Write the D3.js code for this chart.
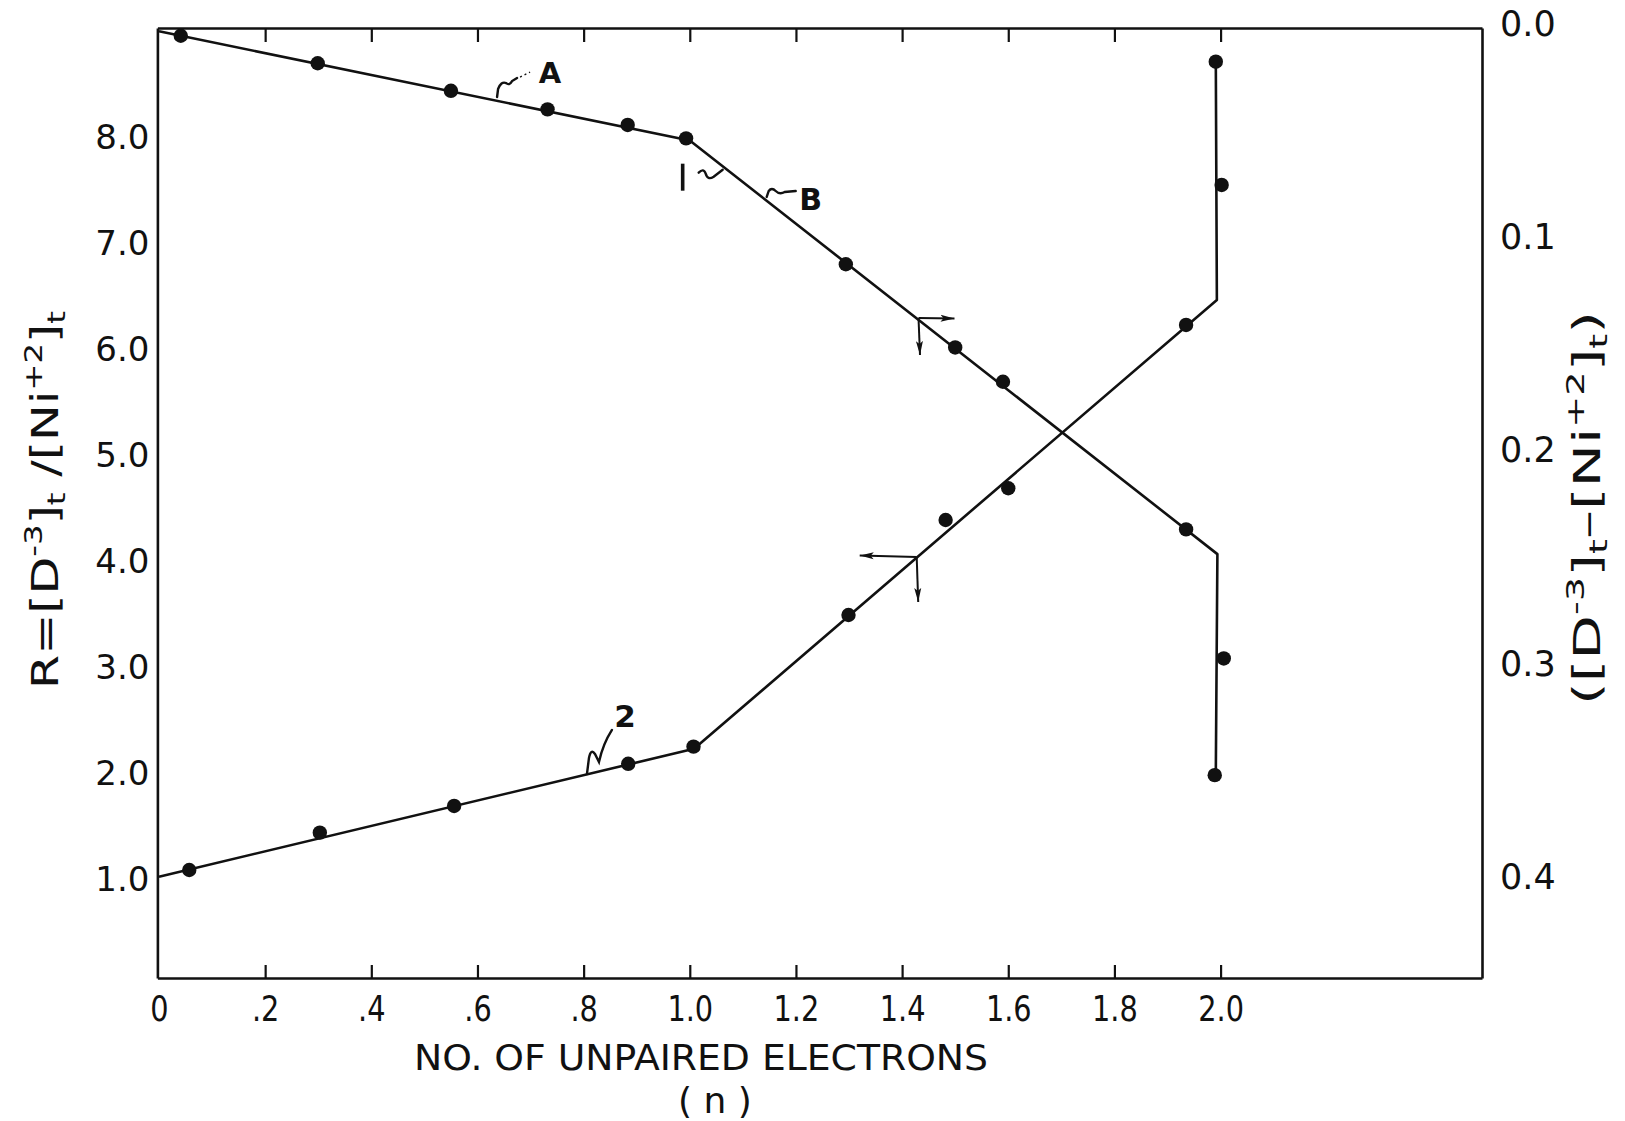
<!DOCTYPE html>
<html><head><meta charset="utf-8">
<script src="https://cdn.jsdelivr.net/npm/d3@7"></script>
<style>html,body{margin:0;padding:0;background:#fff;} svg{display:block;}</style>
</head><body>
<svg id="chart" width="1625" height="1121"></svg>
<script>
// ---------- data ----------
const xTickValues = [0, 0.2, 0.4, 0.6, 0.8, 1.0, 1.2, 1.4, 1.6, 1.8, 2.0];
const xTickLabels = ["0", ".2", ".4", ".6", ".8", "1.0", "1.2", "1.4", "1.6", "1.8", "2.0"];
const leftTickValues = [1, 2, 3, 4, 5, 6, 7, 8];
const rightTickValues = [0.0, 0.1, 0.2, 0.3, 0.4];

// Curve 1: ([D-3]t - [Ni+2]t), read on the right axis
const curve1N   = [0.041, 0.299, 0.550, 0.732, 0.883, 0.993, 1.294, 1.500, 1.590, 1.935, 2.006, 1.989];
const curve1Val = [0.0072, 0.0201, 0.0330, 0.0417, 0.0490, 0.0553, 0.1143, 0.1533, 0.1694, 0.2386, 0.2991, 0.3538];
const curve1LineN   = [0.0, 1.000, 1.994, 1.991];
const curve1LineVal = [0.0051, 0.0563, 0.2502, 0.3530];

// Curve 2: R = [D-3]t/[Ni+2]t, read on the left axis
const curve2N = [0.057, 0.303, 0.556, 0.884, 1.007, 1.299, 1.482, 1.600, 1.935, 2.002, 1.991];
const curve2R = [1.063, 1.416, 1.668, 2.066, 2.228, 3.471, 4.368, 4.668, 6.210, 7.532, 8.696];
const curve2LineN = [0.0, 1.008, 1.993, 1.991];
const curve2LineR = [1.0, 2.208, 6.446, 8.696];

// ---------- layout ----------
const svg = d3.select("#chart");
const L = 157.4, R = 1482, T = 28, B = 978;
const x  = d3.scaleLinear().domain([-0.003, 2.4925]).range([L, R]);
const yL = d3.scaleLinear().domain([0.0434, 9.014]).range([B, T]);
const yR = d3.scaleLinear().domain([0.00356, 0.4489]).range([T, B]);
const ink = "#111";

svg.append("rect").attr("width", 1625).attr("height", 1121).attr("fill", "#fff");

function styleAxis(g, font, size) {
  g.selectAll("path.domain").attr("stroke", ink).attr("stroke-width", 2.6);
  g.selectAll(".tick line").attr("stroke", ink).attr("stroke-width", 2.2);
  g.selectAll(".tick text").attr("fill", ink).attr("font-family", font).attr("font-size", size);
}

// bottom axis
const gB = svg.append("g").attr("transform", `translate(0,${B})`)
  .call(d3.axisBottom(x).tickValues(xTickValues)
    .tickFormat((d, i) => xTickLabels[i]).tickSize(-13).tickSizeOuter(0).tickPadding(17));
styleAxis(gB, "'DejaVu Sans',sans-serif", 36);
gB.selectAll(".tick text").attr("transform", "scale(0.8,1)");
gB.selectAll(".tick").filter(d => d === 0).select("line").remove();

// top axis (ticks only)
const gT = svg.append("g").attr("transform", `translate(0,${T})`)
  .call(d3.axisTop(x).tickValues(xTickValues.slice(1)).tickFormat("").tickSize(-14).tickSizeOuter(0));
styleAxis(gT, "sans-serif", 10);

// left axis
const gL = svg.append("g").attr("transform", `translate(${L},0)`)
  .call(d3.axisLeft(yL).tickValues(leftTickValues).tickFormat(d3.format(".1f"))
    .tickSize(0).tickSizeOuter(0).tickPadding(8));
styleAxis(gL, "'DejaVu Sans',sans-serif", 34);
gL.selectAll(".tick text").attr("dy", "0.4em");

// right axis
const gR = svg.append("g").attr("transform", `translate(${R},0)`)
  .call(d3.axisRight(yR).tickValues(rightTickValues).tickFormat(d3.format(".1f"))
    .tickSize(0).tickSizeOuter(0).tickPadding(18));
styleAxis(gR, "'DejaVu Sans',sans-serif", 35);
gR.selectAll(".tick text").attr("dy", "0.42em");

// ---------- lines ----------
const line1 = d3.line().x(d => x(d[0])).y(d => yR(d[1]));
const line2 = d3.line().x(d => x(d[0])).y(d => yL(d[1]));
svg.append("path").attr("d", line1(d3.zip(curve1LineN, curve1LineVal)))
  .attr("fill", "none").attr("stroke", ink).attr("stroke-width", 2.6).attr("stroke-linejoin", "round");
svg.append("path").attr("d", line2(d3.zip(curve2LineN, curve2LineR)))
  .attr("fill", "none").attr("stroke", ink).attr("stroke-width", 2.6).attr("stroke-linejoin", "round");

// ---------- points ----------
svg.append("g").selectAll("circle").data(d3.zip(curve1N, curve1Val)).join("circle")
  .attr("cx", d => x(d[0])).attr("cy", d => yR(d[1])).attr("r", 7.2).attr("fill", ink);
svg.append("g").selectAll("circle").data(d3.zip(curve2N, curve2R)).join("circle")
  .attr("cx", d => x(d[0])).attr("cy", d => yL(d[1])).attr("r", 7.2).attr("fill", ink);

// ---------- annotations ----------
const annoFont = "'DejaVu Sans',sans-serif";
function label(txt, px, py, size) {
  svg.append("text").attr("x", px).attr("y", py).attr("text-anchor", "middle")
    .attr("dominant-baseline", "central").attr("font-family", annoFont)
    .attr("font-size", size).attr("font-weight", "bold").attr("fill", ink).text(txt);
}
function squiggle(d) {
  svg.append("path").attr("d", d).attr("fill", "none").attr("stroke", ink)
    .attr("stroke-width", 2.4).attr("stroke-linecap", "round");
}
// A
const aX = x(0.733), aY = yL(8.57);
label("A", aX + 2, aY - 2, 29);
squiggle(`M${aX-51},${aY+22} L${aX-50},${aY+14} Q${aX-47},${aY+6} ${aX-42},${aY+8} Q${aX-39},${aY+11} ${aX-36},${aY+6} L${aX-31},${aY+3}`);
svg.append("path").attr("d", `M${aX-28},${aY+2} L${aX-18},${aY-3}`).attr("stroke", ink)
  .attr("stroke-width", 1.4).attr("stroke-dasharray", "2,3");
// 1
const oX = x(0.9866), oY = yL(7.61);
svg.append("rect").attr("x", oX - 1.8).attr("y", oY - 13).attr("width", 3.6).attr("height", 27).attr("fill", ink);
squiggle(`M${oX+16},${oY-4} Q${oX+21},${oY-9} ${oX+23},${oY-3} Q${oX+25},${oY+4} ${oX+31},${oY} L${oX+40},${oY-7}`);
// B
const bX = x(1.2278), bY = yL(7.39);
label("B", bX, bY, 30);
squiggle(`M${bX-44},${bY-3} L${bX-42},${bY-9} Q${bX-39},${bY-13} ${bX-35},${bY-9} Q${bX-31},${bY-5} ${bX-26},${bY-8} L${bX-15},${bY-9}`);
// 2
const tX = x(0.8873), tY = yL(2.48);
label("2", tX - 5, tY - 4, 31);
squiggle(`M${tX-43},${tY+54} L${tX-41},${tY+38} Q${tX-39},${tY+28} ${tX-35},${tY+34} L${tX-31},${tY+42} Q${tX-27},${tY+24} ${tX-18},${tY+10}`);

// arrows
const defs = svg.append("defs");
defs.append("marker").attr("id", "ah").attr("viewBox", "0 0 14 8").attr("refX", 14).attr("refY", 4)
  .attr("markerWidth", 14).attr("markerHeight", 8).attr("markerUnits", "userSpaceOnUse")
  .attr("orient", "auto")
  .append("path").attr("d", "M0,0.5 L14,4 L0,7.5 L3,4 Z").attr("fill", ink);
function arrow(x1, y1, x2, y2) {
  svg.append("line").attr("x1", x1).attr("y1", y1).attr("x2", x2).attr("y2", y2)
    .attr("stroke", ink).attr("stroke-width", 2).attr("marker-end", "url(#ah)");
}
const j1x = x(1.4309), j1y = yR(0.1395);
arrow(j1x, j1y, j1x + 36, j1y + 0.5);
arrow(j1x, j1y, j1x + 1.5, j1y + 37);
const j2x = x(1.4275), j2y = yL(4.019);
arrow(j2x, j2y, j2x - 57, j2y - 1.5);
arrow(j2x, j2y, j2x + 1.5, j2y + 45);

// ---------- axis titles ----------
function richTitle(parts, tx, ty, size, len) {
  const t = svg.append("text").attr("transform", `translate(${tx},${ty}) rotate(-90)`)
    .attr("text-anchor", "middle").attr("font-family", annoFont).attr("font-size", size)
    .attr("fill", ink);
  let cur = 0;
  parts.forEach(p => {
    const shift = p.s === 1 ? -0.42 * size : (p.s === -1 ? 0.2 * size : 0);
    t.append("tspan").attr("dy", shift - cur).attr("font-size", p.s ? size * 0.66 : size).text(p.t);
    cur = shift;
  });
  if (len) t.attr("textLength", len).attr("lengthAdjust", "spacingAndGlyphs");
}
richTitle([
  {t: "R=[D", s: 0}, {t: "-3", s: 1}, {t: "]", s: 0}, {t: "t", s: -1},
  {t: " /[Ni", s: 0}, {t: "+2", s: 1}, {t: "]", s: 0}, {t: "t", s: -1}
], 58, 500, 37, 378);
richTitle([
  {t: "([D", s: 0}, {t: "-3", s: 1}, {t: "]", s: 0}, {t: "t", s: -1},
  {t: "–[Ni", s: 0}, {t: "+2", s: 1}, {t: "]", s: 0}, {t: "t", s: -1}, {t: ")", s: 0}
], 1600, 508, 37, 394);

// x title
svg.append("text").attr("x", 701).attr("y", 1070).attr("text-anchor", "middle")
  .attr("font-family", "'DejaVu Sans',sans-serif")
  .attr("font-size", 35).attr("fill", ink)
  .attr("textLength", 574).attr("lengthAdjust", "spacingAndGlyphs")
  .text("NO. OF UNPAIRED ELECTRONS");
svg.append("text").attr("x", 715).attr("y", 1113).attr("text-anchor", "middle")
  .attr("font-family", "'DejaVu Sans',sans-serif")
  .attr("font-size", 36).attr("fill", ink).text("( n )");
</script>
</body></html>
